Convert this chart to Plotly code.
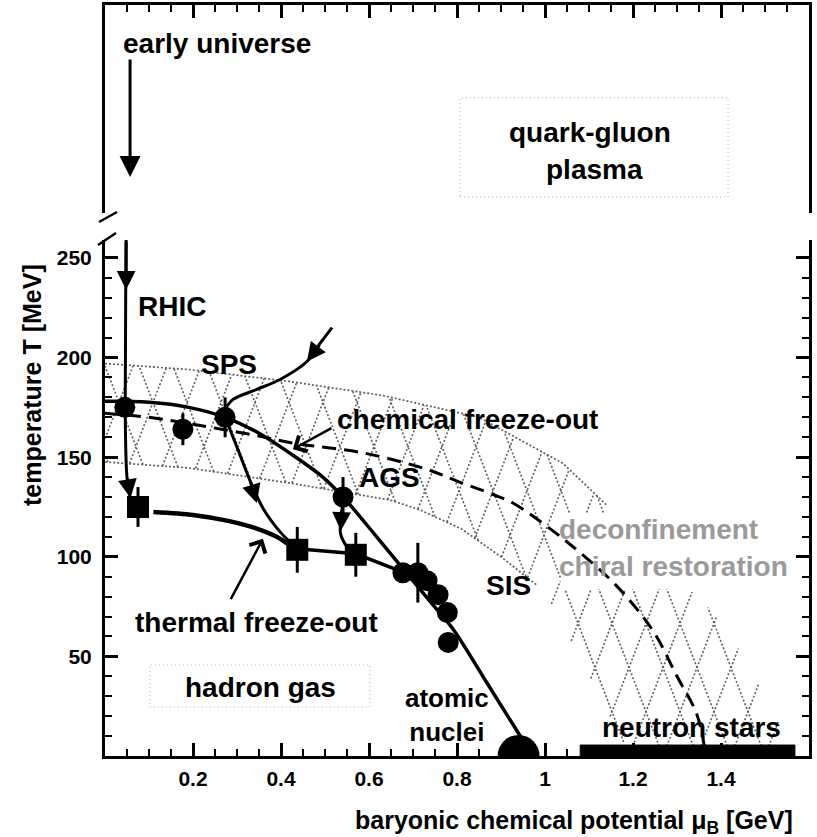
import numpy as np
import plotly.graph_objects as go

# ---------------- data (mu_B in GeV, T in MeV) ----------------
CHEM_MU = [0.045, 0.177, 0.273, 0.541, 0.677, 0.711, 0.732, 0.757, 0.778, 0.780]
CHEM_T = [175, 164, 170, 130, 92, 92, 88, 81, 72, 57]
CHEM_ERR = [0, 8, 10, 10, 0, 15, 0, 4, 0, 0]

THERM_MU = [0.075, 0.437, 0.570]
THERM_T = [125, 103.5, 101]
THERM_ERR = [10, 11.5, 11]

# chemical freeze-out curve
CFO_MU = [0.0, 0.10, 0.19, 0.273, 0.35, 0.42, 0.495, 0.541, 0.61, 0.677, 0.745, 0.79, 0.87, 0.955]
CFO_T = [178, 177.5, 175, 170, 162, 152, 140, 130, 112, 94, 76, 64, 36, 6]

# thermal freeze-out curve
TFO_MU = [0.11, 0.20, 0.28, 0.34, 0.39, 0.415]
TFO_T = [122.5, 121, 118, 114.5, 110, 106.5]
TFO2_MU = [0.437, 0.570, 0.680]
TFO2_T = [104, 101.5, 92]

# phase boundary (dashed)
PB_MU = [0.0, 0.10, 0.20, 0.34, 0.43, 0.59, 0.73, 0.80, 0.885, 0.927, 1.018, 1.08, 1.16, 1.245, 1.30, 1.345, 1.362]
PB_T = [172, 170, 166.5, 161, 157, 152, 144, 138, 131, 127, 113, 102, 86, 63, 40, 21, 5]

# deconfinement / chiral restoration band
BAND_UP_MU = [0.0, 0.19, 0.42, 0.63, 0.85, 0.94, 1.04, 1.14]
BAND_UP_T = [197, 194, 188, 181, 170, 159, 147, 126]
BAND_OUT_MU = [1.22, 1.31, 1.40, 1.46, 1.51, 1.56]
BAND_OUT_T = [108, 88, 68, 47, 27, 3]
BAND_IN_MU = [1.19, 1.17, 1.09, 1.005, 0.98, 0.90, 0.81, 0.716, 0.648, 0.42, 0.19, 0.0]
BAND_IN_T = [3, 10, 45, 80, 86, 100, 114, 123.5, 128.5, 137, 144.6, 147.6]
BAND_GAP = [(1.035, 1.60, 84, 122)]  # region left blank behind the labels

# trajectories
RHIC_MU = [0.048, 0.047, 0.046]
RHIC_T = [259, 230, 175]
RHIC2_MU = [0.046, 0.050, 0.060, 0.075]
RHIC2_T = [175, 140, 128, 125]
SPS_IN_MU = [0.516, 0.485, 0.459, 0.398, 0.345, 0.291, 0.266]
SPS_IN_T = [215, 206, 198, 189, 184, 179, 172]
SPS_TH_MU = [0.273, 0.30, 0.33, 0.36, 0.40, 0.437]
SPS_TH_T = [170, 155, 138, 124, 112, 104]
AGS_TH_MU = [0.541, 0.538, 0.535, 0.550, 0.570]
AGS_TH_T = [130, 122, 112, 105, 101]

# atomic nuclei / neutron stars
NUC_MU = [0.94]
NUC_T = [0]
NS_MU = [1.08, 1.568]
NS_T = [0, 5.5]

X_TICKS = [0.2, 0.4, 0.6, 0.8, 1.0, 1.2, 1.4]
X_TICKTEXT = ["0.2", "0.4", "0.6", "0.8", "1", "1.2", "1.4"]
Y_TICKS = [50, 100, 150, 200, 250]
Y_TICKTEXT = ["50", "100", "150", "200", "250"]

X_RANGE = [0, 1.6]
T_RANGE = [0, 259]

# ---------------- layout geometry ----------------
W, H = 817, 837
ML, MR, MT, MB = 105, 8, 5, 81
PW, PH = W - ML - MR, H - MT - MB
LOW_DOM = [0, 516 / PH]
UP_DOM = [543 / PH, 1]

FONT = "Liberation Sans, Arial, Helvetica, sans-serif"
SX = PW / (X_RANGE[1] - X_RANGE[0])
SY = (LOW_DOM[1] * PH) / (T_RANGE[1] - T_RANGE[0])


def inside(px, py, polx, poly):
    res = np.zeros(px.shape, bool)
    n = len(polx)
    j = n - 1
    for i in range(n):
        xi, yi, xj, yj = polx[i], poly[i], polx[j], poly[j]
        cond = ((yi > py) != (yj > py)) & (px < (xj - xi) * (py - yi) / (yj - yi + 1e-12) + xi)
        res ^= cond
        j = i
    return res


def hatch(poly_mu, poly_t, gaps, period=34.0, slope=2.6):
    polx = np.array(poly_mu) * SX
    poly = np.array(poly_t) * SY
    ys = np.arange(0, T_RANGE[1] * SY, 0.5)
    X, Y = [], []
    for sgn in (1, -1):
        for c in np.arange(-700, 1400, period):
            xs = c + sgn * ys / slope
            m = inside(xs, ys, polx, poly)
            mu = xs / SX
            tt = ys / SY
            for (a0, a1, b0, b1) in gaps:
                m &= ~((mu >= a0) & (mu <= a1) & (tt >= b0) & (tt <= b1))
            edges = np.flatnonzero(np.diff(np.concatenate([[0], m.astype(int), [0]])))
            for a, b in zip(edges[::2], edges[1::2]):
                if b - a < 3:
                    continue
                X += [mu[a], mu[b - 1], None]
                Y += [tt[a], tt[b - 1], None]
    return X, Y


poly_mu = BAND_UP_MU + BAND_OUT_MU + BAND_IN_MU
poly_t = BAND_UP_T + BAND_OUT_T + BAND_IN_T
HX, HY = hatch(poly_mu, poly_t, BAND_GAP)

fig = go.Figure()
GRAY = "#5e5e5e"
fig.add_trace(go.Scatter(x=HX, y=HY, mode="lines",
                         line=dict(color=GRAY, width=1.6, dash="2px,2px"), hoverinfo="skip"))
fig.add_trace(go.Scatter(x=BAND_UP_MU, y=BAND_UP_T, mode="lines",
                         line=dict(color=GRAY, width=1.7, dash="2px,2px")))
fig.add_trace(go.Scatter(x=BAND_IN_MU[4:], y=BAND_IN_T[4:], mode="lines",
                         line=dict(color=GRAY, width=1.7, dash="2px,2px")))

# phase boundary
fig.add_trace(go.Scatter(x=PB_MU, y=PB_T, mode="lines", line_shape="spline",
                         line=dict(color="black", width=3, dash="14px,8px")))

# chemical freeze-out curve
fig.add_trace(go.Scatter(x=CFO_MU, y=CFO_T, mode="lines", line_shape="spline",
                         line=dict(color="black", width=3.5)))
# thermal freeze-out curve
fig.add_trace(go.Scatter(x=TFO_MU, y=TFO_T, mode="lines", line_shape="spline",
                         line=dict(color="black", width=4.5, smoothing=0.8)))
fig.add_trace(go.Scatter(x=TFO2_MU, y=TFO2_T, mode="lines",
                         line=dict(color="black", width=3.5)))

# trajectories
for xs, ys in [(RHIC_MU, RHIC_T), (RHIC2_MU, RHIC2_T), (SPS_IN_MU, SPS_IN_T),
               (SPS_TH_MU, SPS_TH_T), (AGS_TH_MU, AGS_TH_T)]:
    fig.add_trace(go.Scatter(x=xs, y=ys, mode="lines", line_shape="spline",
                             line=dict(color="black", width=3, smoothing=0.8)))

# markers
fig.add_trace(go.Scatter(x=CHEM_MU, y=CHEM_T, mode="markers",
                         marker=dict(symbol="circle", size=21, color="black"),
                         error_y=dict(type="data", array=CHEM_ERR, color="black",
                                      thickness=3, width=0)))
fig.add_trace(go.Scatter(x=THERM_MU, y=THERM_T, mode="markers",
                         marker=dict(symbol="square", size=22, color="black"),
                         error_y=dict(type="data", array=THERM_ERR, color="black",
                                      thickness=3, width=0)))
fig.add_trace(go.Scatter(x=NUC_MU, y=NUC_T, mode="markers", cliponaxis=True,
                         marker=dict(symbol="circle", size=42, color="black")))
fig.add_trace(go.Scatter(x=[NS_MU[0], NS_MU[1], NS_MU[1], NS_MU[0], NS_MU[0]],
                         y=[NS_T[0], NS_T[0], NS_T[1], NS_T[1], NS_T[0]],
                         mode="lines", fill="toself", fillcolor="black",
                         line=dict(color="black", width=1)))

# upper panel placeholder trace
fig.add_trace(go.Scatter(x=[0.5], y=[0.5], xaxis="x2", yaxis="y2", mode="markers",
                         marker=dict(opacity=0), hoverinfo="skip"))

ann = []


def txt(s, x, y, size=28, color="black", xref="x", yref="y", **kw):
    d = dict(text=s, x=x, y=y, xref=xref, yref=yref, showarrow=False,
             font=dict(family=FONT, size=size, color=color, weight="bold"))
    d.setdefault("xanchor", "center")
    d.setdefault("yanchor", "middle")
    d.update(kw)
    ann.append(d)


def arrow(x, y, ax, ay, head=2, width=3, size=1.25, xref="x", yref="y"):
    ann.append(dict(text="", x=x, y=y, ax=ax, ay=ay, xref=xref, yref=yref,
                    axref=xref, ayref=yref, showarrow=True, arrowhead=head,
                    arrowwidth=width, arrowsize=size, arrowcolor="black",
                    standoff=0, startstandoff=0))


txt("RHIC", 0.152, 225.4)
txt("SPS", 0.281, 196.3)
txt("chemical freeze-out", 0.824, 168.7)
txt("AGS", 0.647, 139.6)
txt("deconfinement", 1.259, 113.5, color="#9a9a9a")
txt("chiral restoration", 1.291, 95, color="#9a9a9a")
txt("SIS", 0.916, 85.8)
txt("thermal freeze-out", 0.344, 66.8)
txt("hadron gas", 0.3545, 34.3)
txt("atomic<br>nuclei", 0.778, 20.5, size=26)
txt("neutron stars", 1.332, 14.5)
txt("early universe", 0.255, 0.817, xref="x2", yref="y2")
txt("quark-gluon", 1.102, 0.389, xref="x2", yref="y2")
txt("plasma", 1.112, 0.207, xref="x2", yref="y2")

# arrows
arrow(0.057, 0.173, 0.057, 0.745, xref="x2", yref="y2", size=1.4)
arrow(0.048, 234, 0.048, 259)
arrow(0.058, 129.5, 0.050, 140)
arrow(0.459, 198, 0.49, 207)
arrow(0.345, 127, 0.33, 138)
arrow(0.536, 113, 0.538, 124)
arrow(0.427, 154, 0.518, 165, head=4, width=2.5, size=1.4)
arrow(0.359, 109, 0.284, 78, head=4, width=2.5, size=1.4)

# axis titles
txt("temperature T [MeV]", (32 - ML) / PW, (756 - 385) / PH,
    size=25, xref="paper", yref="paper", textangle=-90)
txt("baryonic chemical potential μ<sub>B</sub> [GeV]", (795 - ML) / PW, (756 - 822) / PH,
    size=25, xref="paper", yref="paper", xanchor="right")

shapes = []
# labelled region boxes
shapes.append(dict(type="rect", xref="x", yref="y", x0=0.102, x1=0.602, y0=24.6, y1=45.7,
                   line=dict(color="#b0b0b0", width=1, dash="1px,3px")))
shapes.append(dict(type="rect", xref="x2", yref="y2", x0=0.807, x1=1.416, y0=0.077, y1=0.553,
                   line=dict(color="#b0b0b0", width=1, dash="1px,3px")))
# axis break marks
for (x0, y0, x1, y1) in [(98, 245, 116, 233), (99, 222, 117, 212)]:
    shapes.append(dict(type="line", xref="paper", yref="paper",
                       x0=(x0 - ML) / PW, x1=(x1 - ML) / PW,
                       y0=(756 - y0) / PH, y1=(756 - y1) / PH,
                       line=dict(color="black", width=2.5)))

tickfont = dict(family=FONT, size=21, color="black", weight="bold")
common_x = dict(range=X_RANGE, showgrid=False, zeroline=False, showline=True,
                linecolor="black", linewidth=3, ticks="inside", ticklen=13,
                tickwidth=2.5, tickcolor="black",
                minor=dict(ticks="inside", ticklen=7, tickwidth=2, tickcolor="black",
                           tickmode="linear", tick0=0, dtick=0.05, showgrid=False))

fig.update_layout(
    width=W, height=H, margin=dict(l=ML, r=MR, t=MT, b=MB),
    paper_bgcolor="white", plot_bgcolor="white", showlegend=False,
    xaxis=dict(domain=[0, 1], anchor="y", tickmode="array", tickvals=X_TICKS,
               ticktext=X_TICKTEXT, tickfont=tickfont, ticklabelstandoff=2,
               mirror=False, **common_x),
    yaxis=dict(domain=LOW_DOM, anchor="x", range=T_RANGE, showgrid=False, zeroline=False,
               showline=True, linecolor="black", linewidth=3, mirror="ticks",
               ticks="inside", ticklen=13, tickwidth=2.5, tickcolor="black",
               tickmode="array", tickvals=Y_TICKS, ticktext=Y_TICKTEXT,
               tickfont=tickfont, ticklabelstandoff=6,
               minor=dict(ticks="inside", ticklen=7, tickwidth=2, tickcolor="black",
                          tickmode="linear", tick0=0, dtick=10, showgrid=False)),
    xaxis2=dict(domain=[0, 1], anchor="y2", side="top", showticklabels=False,
                tickmode="array", tickvals=X_TICKS, mirror=False, **common_x),
    yaxis2=dict(domain=UP_DOM, anchor="x2", range=[0, 1], showgrid=False, zeroline=False,
                showline=True, linecolor="black", linewidth=3, mirror=True,
                ticks="", showticklabels=False),
    annotations=ann, shapes=shapes,
)

fig.write_html("out.html")
